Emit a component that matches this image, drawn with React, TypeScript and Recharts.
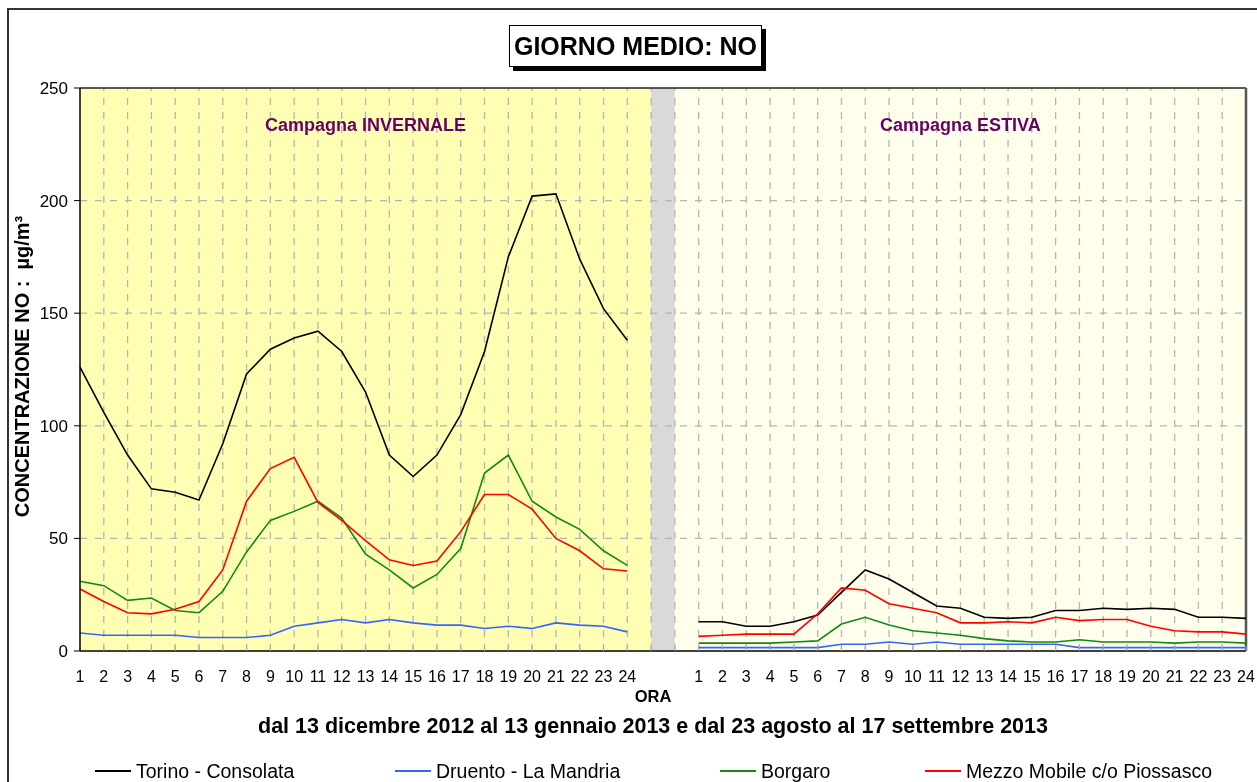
import React from 'react';
import { LineChart, Line, XAxis, YAxis, ReferenceArea, ReferenceLine, Legend } from 'recharts';

// ---- data ----
const hours = [1, 2, 3, 4, 5, 6, 7, 8, 9, 10, 11, 12, 13, 14, 15, 16, 17, 18, 19, 20, 21, 22, 23, 24];
const yTicks = [0, 50, 100, 150, 200, 250];

const torinoInverno = [126, 106, 87, 72, 70.5, 67, 92, 123, 134, 139, 142, 133, 115, 87, 77.5, 87, 105, 133, 175, 202, 203, 174, 152, 138];
const druentoInverno = [8, 7, 7, 7, 7, 6, 6, 6, 7, 11, 12.5, 14, 12.5, 14, 12.5, 11.5, 11.5, 10, 11, 10, 12.5, 11.5, 11, 8.5];
const borgaroInverno = [31, 29, 22.5, 23.5, 18, 17, 26.5, 44, 58, 62, 66.5, 59, 43, 36, 28, 34, 45.5, 79, 87, 66.5, 59.5, 54, 44.5, 38];
const piossascoInverno = [27.5, 22, 17, 16.5, 18.5, 22, 36, 66.5, 81, 86, 66, 58, 49, 40.5, 38, 40, 53, 69.5, 69.5, 63, 50, 44.5, 36.5, 35.5];

const torinoEstate = [13, 13, 11, 11, 13, 16, 26, 36, 32, 26, 20, 19, 15, 14.5, 15, 18, 18, 19, 18.5, 19, 18.5, 15, 15, 14.5];
const druentoEstate = [1.5, 1.5, 1.5, 1.5, 1.5, 1.5, 3, 3, 4, 3, 4, 3, 3, 3, 3, 3, 1.5, 1.5, 1.5, 1.5, 1.5, 1.5, 1.5, 1.5];
const borgaroEstate = [3.5, 3.5, 3.5, 3.5, 4, 4.5, 12, 15, 11.5, 9, 8, 7, 5.5, 4.5, 4, 4, 5, 4, 4, 4, 3.5, 4, 4, 3.5];
const piossascoEstate = [6.5, 7, 7.5, 7.5, 7.5, 16.5, 28, 27, 21, 19, 17, 12.5, 12.5, 13, 12.5, 15, 13.5, 14, 14, 11, 9, 8.5, 8.5, 7.5];

const series = [
  { key: 'torino', name: 'Torino - Consolata', color: '#000000' },
  { key: 'druento', name: 'Druento - La Mandria', color: '#3366ff' },
  { key: 'borgaro', name: 'Borgaro', color: '#108a10' },
  { key: 'piossasco', name: 'Mezzo Mobile c/o Piossasco', color: '#ff0000' },
];

// category positions: 24 winter hours, 2 empty separator slots, 24 summer hours
const GAP = 2;
const summerStart = hours.length + GAP;
const lastPos = summerStart + hours.length - 1;

const data = [
  ...hours.map((h, i) => ({
    pos: i,
    torino: torinoInverno[i],
    druento: druentoInverno[i],
    borgaro: borgaroInverno[i],
    piossasco: piossascoInverno[i],
  })),
  { pos: hours.length },
  { pos: hours.length + 1 },
  ...hours.map((h, i) => ({
    pos: summerStart + i,
    torino: torinoEstate[i],
    druento: druentoEstate[i],
    borgaro: borgaroEstate[i],
    piossasco: piossascoEstate[i],
  })),
];

const allPositions = data.map((d) => d.pos);
const tickLabel = (v: number) => {
  if (v < hours.length) return String(hours[v]);
  if (v >= summerStart) return String(hours[v - summerStart]);
  return '';
};

const FONT = '"Liberation Sans", Arial, Helvetica, sans-serif';
const legendLeft = [87, 387, 712, 917];

const LegendContent = () => (
  <div style={{ position: 'relative', width: 1249, height: 0, fontFamily: FONT }}>
    {series.map((s, i) => (
      <div
        key={s.key}
        style={{
          position: 'absolute',
          left: legendLeft[i],
          top: 0,
          display: 'flex',
          alignItems: 'center',
          whiteSpace: 'nowrap',
          fontSize: 19.5,
          color: '#000',
          lineHeight: '22px',
        }}
      >
        <span style={{ display: 'inline-block', width: 36, height: 0, borderTop: `2px solid ${s.color}`, marginRight: 5 }} />
        <span>{s.name}</span>
      </div>
    ))}
  </div>
);

const XAxisTitles = (props: any) => {
  const vb = props.viewBox || {};
  const cx = vb.x + vb.width / 2 - 10;
  return (
    <g>
      <text x={cx} y={vb.y + 45} textAnchor="middle" dominantBaseline="central" fontFamily={FONT} fontSize={16.5} fontWeight="bold" fill="#000">
        ORA
      </text>
      <text x={cx} y={vb.y + 75} textAnchor="middle" dominantBaseline="central" fontFamily={FONT} fontSize={21.5} fontWeight="bold" fill="#000">
        dal 13 dicembre 2012 al 13 gennaio 2013 e dal 23 agosto al 17 settembre 2013
      </text>
    </g>
  );
};

const YAxisTitle = (props: any) => {
  const vb = props.viewBox || {};
  const x = vb.x + 14;
  const y = vb.y + vb.height / 2 - 3;
  return (
    <text
      x={x}
      y={y}
      transform={`rotate(-90 ${x} ${y})`}
      textAnchor="middle"
      dominantBaseline="central"
      fontFamily={FONT}
      fontSize={20}
      fontWeight="bold"
      fill="#000"
      style={{ whiteSpace: 'pre' }}
    >
      {'CONCENTRAZIONE NO :  µg/m³'}
    </text>
  );
};

const gridStroke = '#b4b4b4';

export default function App() {
  return (
    <div style={{ position: 'fixed', left: 8, top: 8, width: 1249, height: 774, fontFamily: FONT }}>
      <LineChart width={1249} height={774} data={data} margin={{ top: 80, right: 11, bottom: 0, left: 0 }} style={{ overflow: 'visible' }}>
        <ReferenceArea x1={0} x2={hours.length} y1={0} y2={250} fill="#ffffb4" fillOpacity={1} stroke="none" ifOverflow="visible"
          label={{ value: 'Campagna INVERNALE', position: 'insideTop', offset: 30, fill: '#660066', fontSize: 18, fontWeight: 'bold', fontFamily: FONT }} />
        <ReferenceArea x1={hours.length} x2={hours.length + 1} y1={0} y2={250} fill="#d9d9d9" fillOpacity={1} stroke="none" ifOverflow="visible" />
        <ReferenceArea x1={hours.length + 1} x2={lastPos} y1={0} y2={250} fill="#ffffec" fillOpacity={1} stroke="none" ifOverflow="visible"
          label={{ value: 'Campagna ESTIVA', position: 'insideTop', offset: 30, fill: '#660066', fontSize: 18, fontWeight: 'bold', fontFamily: FONT }} />
        {allPositions.slice(1, -1).map((p) => (
          <ReferenceLine key={'v' + p} x={p} stroke={gridStroke} strokeWidth={1.3} strokeDasharray="7 7" ifOverflow="visible" />
        ))}
        {yTicks.slice(1, -1).map((t) => (
          <ReferenceLine key={'h' + t} y={t} stroke={gridStroke} strokeWidth={1.3} strokeDasharray="7 8" ifOverflow="visible" />
        ))}
        <ReferenceLine y={250} stroke="#222" strokeWidth={1.3} ifOverflow="visible" />
        <ReferenceLine x={lastPos} stroke="#555" strokeWidth={2.5} ifOverflow="visible" />
        <XAxis
          dataKey="pos"
          type="number"
          domain={[0, lastPos]}
          ticks={allPositions}
          interval={0}
          tickFormatter={tickLabel}
          height={131}
          axisLine={{ stroke: '#000', strokeWidth: 1.5 }}
          tickLine={{ stroke: '#aaaaaa' }}
          tickSize={-5}
          tickMargin={25}
          tick={{ fontSize: 16, fill: '#000', fontFamily: FONT }}
          label={<XAxisTitles />}
        />
        <YAxis
          domain={[0, 250]}
          ticks={yTicks}
          interval={0}
          width={72}
          axisLine={{ stroke: '#000', strokeWidth: 1.5 }}
          tickLine={{ stroke: '#000' }}
          tickSize={6}
          tickMargin={6}
          tick={{ fontSize: 17, fill: '#000', fontFamily: FONT }}
          label={<YAxisTitle />}
        />
        {series.map((s) => (
          <Line
            key={s.key}
            dataKey={s.key}
            name={s.name}
            stroke={s.color}
            strokeWidth={1.6}
            dot={false}
            activeDot={false}
            isAnimationActive={false}
            connectNulls={false}
            type="linear"
          />
        ))}
        <Legend content={<LegendContent />} wrapperStyle={{ position: 'absolute', left: 0, top: 752, width: 1249, height: 0 }} />
      </LineChart>
      <div
        style={{
          position: 'absolute',
          left: 501,
          top: 17,
          width: 251,
          height: 40,
          border: '1.5px solid #000',
          boxShadow: '4px 4px 0 #000',
          background: '#fff',
          display: 'flex',
          alignItems: 'center',
          justifyContent: 'center',
          fontWeight: 'bold',
          fontSize: 25,
          color: '#000',
          whiteSpace: 'nowrap',
        }}
      >
        GIORNO MEDIO: NO
      </div>
      <div
        style={{
          position: 'absolute',
          left: -1,
          top: 0,
          width: 1250,
          height: 774,
          borderLeft: '2px solid #333',
          borderTop: '2px solid #333',
          boxSizing: 'border-box',
          pointerEvents: 'none',
        }}
      />
    </div>
  );
}
